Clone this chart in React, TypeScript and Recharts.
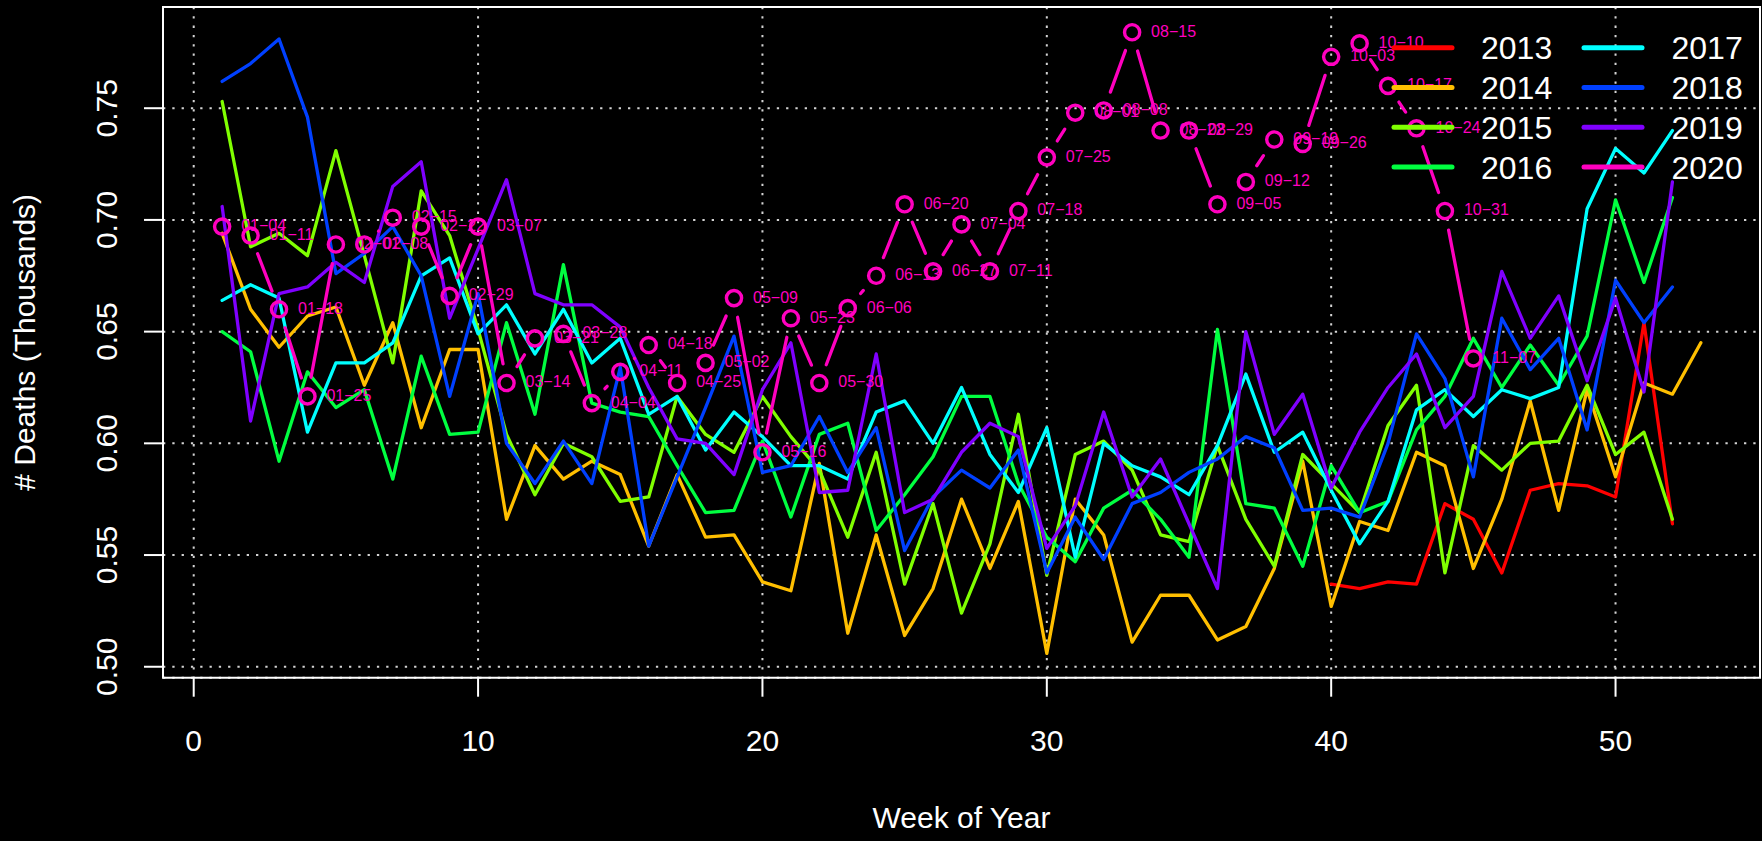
import {
  CartesianGrid,
  Legend,
  Line,
  LineChart,
  ReferenceArea,
  XAxis,
  YAxis,
} from "recharts";

// weekly deaths (thousands), one list per year
const weeks = [
  1, 2, 3, 4, 5, 6, 7, 8, 9, 10, 11, 12, 13, 14, 15, 16, 17, 18, 19, 20, 21,
  22, 23, 24, 25, 26, 27, 28, 29, 30, 31, 32, 33, 34, 35, 36, 37, 38, 39, 40,
  41, 42, 43, 44, 45, 46, 47, 48, 49, 50, 51, 52, 53,
];
const years = ["2013", "2014", "2015", "2016", "2017", "2018", "2019", "2020"];
const colors = [
  "#FF0000", "#FFBF00", "#80FF00", "#00FF40",
  "#00FFFF", "#0040FF", "#8000FF", "#FF00BF",
];

// 2013 only starts at week 40
const firstWeek2013 = 40;
const deaths2013 = [
  0.537, 0.535, 0.538, 0.537, 0.573, 0.566, 0.542, 0.579, 0.582, 0.581, 0.576,
  0.654, 0.564,
];
const deaths2014 = [
  0.694, 0.66, 0.643, 0.657, 0.661, 0.626, 0.654, 0.607, 0.642, 0.642, 0.566,
  0.599, 0.584, 0.592, 0.586, 0.554, 0.586, 0.558, 0.559, 0.538, 0.534, 0.591,
  0.515, 0.559, 0.514, 0.535, 0.575, 0.544, 0.574, 0.506, 0.575, 0.559, 0.511,
  0.532, 0.532, 0.512, 0.518, 0.544, 0.592, 0.527, 0.565, 0.561, 0.596, 0.59,
  0.544, 0.575, 0.619, 0.57, 0.624, 0.585, 0.627, 0.622, 0.645,
];
const deaths2015 = [
  0.753, 0.688, 0.694, 0.684, 0.731, 0.684, 0.636, 0.713, 0.693, 0.651, 0.604,
  0.577, 0.6, 0.594, 0.574, 0.576, 0.621, 0.604, 0.596, 0.621, 0.603, 0.588,
  0.558, 0.596, 0.537, 0.573, 0.524, 0.555, 0.613, 0.541, 0.595, 0.601, 0.588,
  0.559, 0.556, 0.599, 0.566, 0.545, 0.595, 0.582, 0.569, 0.608, 0.626, 0.542,
  0.599, 0.588, 0.6, 0.601, 0.626, 0.595, 0.605, 0.566,
];
const deaths2016 = [
  0.65, 0.641, 0.592, 0.632, 0.616, 0.624, 0.584, 0.639, 0.604, 0.605, 0.654,
  0.613, 0.68, 0.618, 0.614, 0.612, 0.59, 0.569, 0.57, 0.601, 0.567, 0.604,
  0.609, 0.561, 0.577, 0.594, 0.621, 0.621, 0.582, 0.558, 0.547, 0.571, 0.579,
  0.566, 0.549, 0.651, 0.573, 0.571, 0.545, 0.59, 0.569, 0.574, 0.606, 0.621,
  0.647, 0.625, 0.644, 0.626, 0.648, 0.709, 0.672, 0.71,
];
const deaths2017 = [
  0.664, 0.671, 0.665, 0.605, 0.636, 0.636, 0.645, 0.675, 0.683, 0.649, 0.662,
  0.64, 0.66, 0.636, 0.647, 0.613, 0.621, 0.597, 0.614, 0.603, 0.59, 0.59,
  0.584, 0.614, 0.619, 0.6, 0.625, 0.595, 0.578, 0.607, 0.549, 0.6, 0.59,
  0.585, 0.577, 0.599, 0.631, 0.596, 0.605, 0.579, 0.555, 0.574, 0.615, 0.624,
  0.612, 0.624, 0.62, 0.625, 0.705, 0.732, 0.721, 0.74,
];
const deaths2018 = [
  0.762, 0.77, 0.781, 0.746, 0.676, 0.685, 0.697, 0.675, 0.621, 0.667, 0.6,
  0.582, 0.601, 0.582, 0.634, 0.554, 0.585, 0.616, 0.648, 0.587, 0.59, 0.612,
  0.587, 0.607, 0.552, 0.576, 0.588, 0.58, 0.597, 0.542, 0.567, 0.548, 0.573,
  0.578, 0.587, 0.593, 0.603, 0.598, 0.57, 0.571, 0.567, 0.6, 0.649, 0.629,
  0.585, 0.656, 0.633, 0.647, 0.606, 0.673, 0.654, 0.67,
];
const deaths2019 = [
  0.706, 0.61, 0.667, 0.67, 0.681, 0.672, 0.715, 0.726, 0.656, 0.687, 0.718,
  0.667, 0.662, 0.662, 0.652, 0.625, 0.602, 0.6, 0.586, 0.624, 0.645, 0.578,
  0.579, 0.64, 0.569, 0.575, 0.596, 0.609, 0.603, 0.553, 0.572, 0.614, 0.576,
  0.593, 0.564, 0.535, 0.65, 0.604, 0.622, 0.58, 0.605, 0.625, 0.64, 0.607,
  0.621, 0.677, 0.647, 0.666, 0.628, 0.665, 0.623, 0.717,
];
const deaths2020 = [
  0.697, 0.693, 0.66, 0.621, 0.689, 0.689, 0.701, 0.697, 0.666, 0.697, 0.627,
  0.647, 0.649, 0.618, 0.632, 0.644, 0.627, 0.636, 0.665, 0.596, 0.656, 0.627,
  0.6605, 0.675, 0.707, 0.677, 0.698, 0.677, 0.704, 0.728, 0.748, 0.749, 0.784,
  0.74, 0.74, 0.707, 0.717, 0.736, 0.734, 0.773, 0.779, 0.76, 0.741, 0.704,
  0.638,
];
const dates2020 = [
  "01−04", "01−11", "01−18", "01−25", "02−01", "02−08", "02−15", "02−22",
  "02−29", "03−07", "03−14", "03−21", "03−28", "04−04", "04−11", "04−18",
  "04−25", "05−02", "05−09", "05−16", "05−23", "05−30", "06−06", "06−13",
  "06−20", "06−27", "07−04", "07−11", "07−18", "07−25", "08−01", "08−08",
  "08−15", "08−22", "08−29", "09−05", "09−12", "09−19", "09−26", "10−03",
  "10−10", "10−17", "10−24", "10−31", "11−07",
];
const xTicks = [0, 10, 20, 30, 40, 50];
const yTicks = [0.5, 0.55, 0.6, 0.65, 0.7, 0.75];

const FONT = '"Liberation Sans", Arial, Helvetica, sans-serif';
const X_DOMAIN = [-1.08, 55.08];
const Y_DOMAIN = [0.4951, 0.7953];
const PINK = colors[7];
const GAP = 19.5; // R type="b": segments stop short of the points

const rows = weeks.map((week, i) => ({
  week,
  y2013: week >= firstWeek2013 ? deaths2013[week - firstWeek2013] ?? null : null,
  y2014: deaths2014[i] ?? null,
  y2015: deaths2015[i] ?? null,
  y2016: deaths2016[i] ?? null,
  y2017: deaths2017[i] ?? null,
  y2018: deaths2018[i] ?? null,
  y2019: deaths2019[i] ?? null,
  y2020: deaths2020[i] ?? null,
}));

const XTick = (p: any) => (
  <text x={p.x} y={p.y} dy="0.71em" textAnchor="middle" fill="#fff" fontSize={30} fontFamily={FONT}>
    {p.payload.value}
  </text>
);

const YTick = (p: any) => (
  <text
    x={p.x}
    y={p.y}
    transform={`rotate(-90 ${p.x} ${p.y})`}
    textAnchor="middle"
    fill="#fff"
    fontSize={30}
    fontFamily={FONT}
  >
    {Number(p.payload.value).toFixed(2)}
  </text>
);

const YTitle = (props: any) => {
  const vb = props.viewBox || { x: 0, y: 7, width: 163, height: 670.7 };
  const cy = vb.y + vb.height / 2;
  return (
    <text x={35} y={cy} transform={`rotate(-90 35 ${cy})`} textAnchor="middle" fill="#fff" fontSize={30} fontFamily={FONT}>
      # Deaths (Thousands)
    </text>
  );
};

// 2020 point: shortened segment to the next point, open circle, date label
const point2020 = (p: any) => {
  if (p.value == null || p.cy == null) return <g key={`p${p.index}`} />;
  const next = p.points ? p.points[p.index + 1] : null;
  let seg = null;
  if (next && next.y != null && next.value != null) {
    const dx = next.x - p.cx;
    const dy = next.y - p.cy;
    const d = Math.hypot(dx, dy);
    if (d > 2 * GAP) {
      const ux = dx / d;
      const uy = dy / d;
      seg = (
        <line
          x1={p.cx + ux * GAP}
          y1={p.cy + uy * GAP}
          x2={next.x - ux * GAP}
          y2={next.y - uy * GAP}
          stroke={PINK}
          strokeWidth={3.3}
          strokeLinecap="round"
        />
      );
    }
  }
  return (
    <g key={`p${p.index}`}>
      {seg}
      <circle cx={p.cx} cy={p.cy} r={7.6} fill="none" stroke={PINK} strokeWidth={3.4} />
      <text x={p.cx + 19} y={p.cy + 4.4} fill={PINK} fontSize={16} fontFamily={FONT}>
        {dates2020[p.index]}
      </text>
    </g>
  );
};

const LegendBox = () => (
  <svg width={380} height={175} style={{ display: "block" }}>
    {years.map((yr, i) => {
      const col = Math.floor(i / 4);
      const ly = 27.7 + 39.8 * (i % 4);
      const lx = col === 0 ? 14 : 204;
      const tx = col === 0 ? 101 : 291.5;
      return (
        <g key={yr}>
          <line x1={lx} x2={lx + 58} y1={ly} y2={ly} stroke={colors[i]} strokeWidth={5} strokeLinecap="round" />
          <text x={tx} y={ly + 11.6} fill="#fff" fontSize={32} fontFamily={FONT}>
            {yr}
          </text>
        </g>
      );
    })}
  </svg>
);

export default function App() {
  return (
    <div style={{ position: "absolute", left: 0, top: 0, width: 1762, height: 841, background: "#000" }}>
      <LineChart width={1762} height={841} data={rows} margin={{ top: 7, right: 2, left: 0, bottom: 0 }}>
        <CartesianGrid stroke="#d3d3d3" strokeDasharray="2.3 7" strokeWidth={2} />
        <XAxis
          type="number"
          dataKey="week"
          domain={X_DOMAIN}
          ticks={xTicks}
          allowDataOverflow
          height={163.3}
          axisLine={false}
          tickLine={{ stroke: "#fff", strokeWidth: 2 }}
          tickSize={19}
          tickMargin={33}
          tick={XTick}
          label={{ value: "Week of Year", position: "insideBottom", offset: 12.7, fill: "#fff", fontSize: 30, fontFamily: FONT }}
        />
        <YAxis
          type="number"
          domain={Y_DOMAIN}
          ticks={yTicks}
          allowDataOverflow
          width={163}
          axisLine={false}
          tickLine={{ stroke: "#fff", strokeWidth: 2 }}
          tickSize={19}
          tickMargin={27}
          tick={YTick}
          label={{ value: "# Deaths (Thousands)", content: YTitle }}
        />
        {years.slice(0, 7).map((yr, i) => (
          <Line
            key={yr}
            dataKey={`y${yr}`}
            type="linear"
            stroke={colors[i]}
            strokeWidth={3.3}
            strokeLinejoin="round"
            strokeLinecap="round"
            dot={false}
            activeDot={false}
            isAnimationActive={false}
          />
        ))}
        <Line
          dataKey="y2020"
          type="linear"
          stroke="none"
          dot={point2020}
          activeDot={false}
          isAnimationActive={false}
        />
        <ReferenceArea
          x1={X_DOMAIN[0]}
          x2={X_DOMAIN[1]}
          y1={Y_DOMAIN[0]}
          y2={Y_DOMAIN[1]}
          fill="none"
          fillOpacity={0}
          stroke="#fff"
          strokeWidth={2}
          ifOverflow="visible"
        />
        <Legend
          layout="horizontal"
          verticalAlign="middle"
          align="center"
          content={LegendBox}
          wrapperStyle={{ position: "absolute", left: 1380, top: 20, width: 380, height: 175 }}
        />
      </LineChart>
    </div>
  );
}
